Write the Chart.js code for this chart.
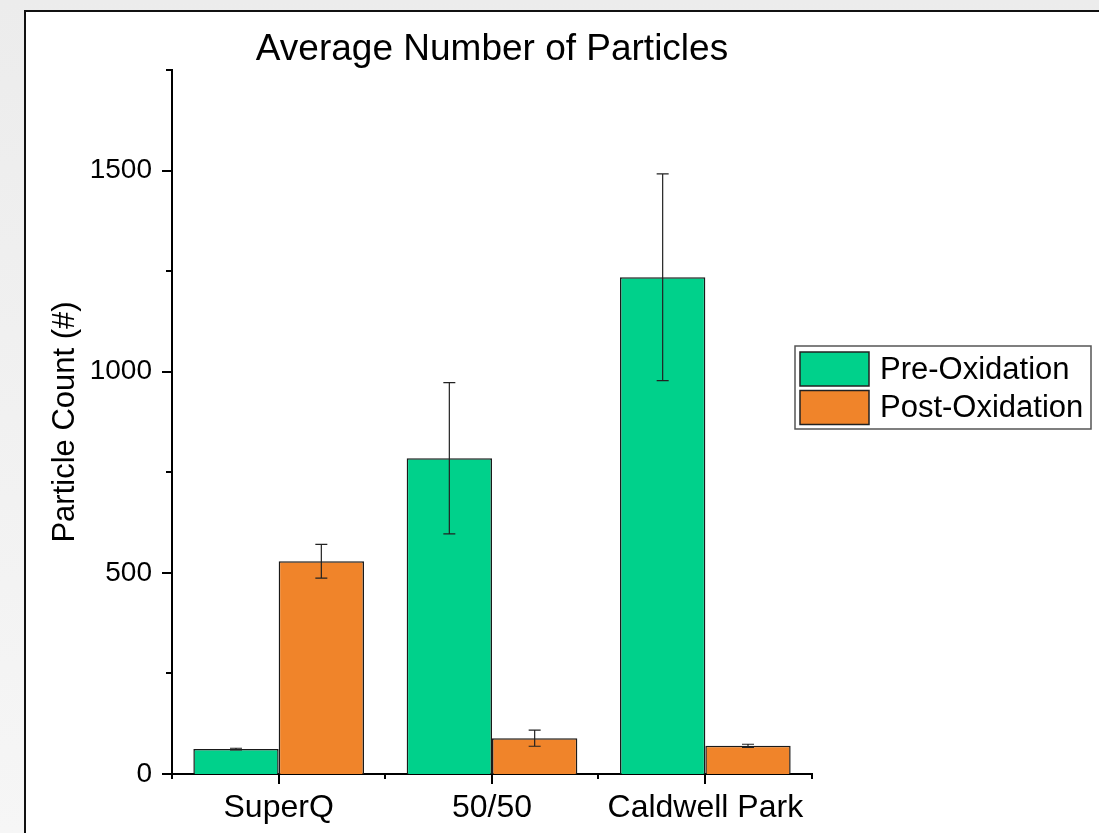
<!DOCTYPE html>
<html>
<head>
<meta charset="utf-8">
<script src="https://cdn.jsdelivr.net/npm/chart.js@4.4.1/dist/chart.umd.min.js"></script>
<style>
  html, body {
    margin: 0;
    padding: 0;
    width: 1099px;
    height: 833px;
    overflow: hidden;
    background: linear-gradient(to bottom, #ececec, #f6f6f6);
  }
  #frame {
    position: absolute;
    left: 24px;
    top: 10px;
    width: 1200px;
    height: 900px;
    border: 2px solid #111;
    background: #fff;
  }
  #chart-wrap {
    position: absolute;
    left: 0;
    top: 0;
    width: 1099px;
    height: 833px;
  }
</style>
</head>
<body>
<div id="frame"></div>
<div id="chart-wrap"><canvas id="chart-canvas" width="1099" height="833"></canvas></div>
<script>
// Data
const categories = ['SuperQ', '50/50', 'Caldwell Park'];
const preOxidation = [62, 785, 1235];
const preOxidationErr = [2, 188, 257];
const postOxidation = [529, 89, 70];
const postOxidationErr = [42, 20, 4];
const yTickValues = [0, 500, 1000, 1500];
const chartTitle = 'Average Number of Particles';

const FONT = "'Liberation Sans', Arial, sans-serif";
const GREEN = 'rgb(0, 209, 139)';
const ORANGE = 'rgb(240, 132, 42)';

// Title centred over the plot area (not the whole canvas)
const plotTitlePlugin = {
  id: 'plotTitle',
  afterDraw(chart) {
    const ctx = chart.ctx;
    const area = chart.chartArea;
    ctx.save();
    ctx.fillStyle = '#000';
    ctx.font = '37px ' + FONT;
    ctx.textAlign = 'center';
    ctx.textBaseline = 'middle';
    ctx.fillText(chartTitle, (area.left + area.right) / 2, 50);
    ctx.restore();
  },
};

// Error bars drawn on top of each bar
const errorBarPlugin = {
  id: 'errorBars',
  afterDatasetsDraw(chart) {
    const ctx = chart.ctx;
    const yScale = chart.scales.y;
    chart.data.datasets.forEach((ds, i) => {
      const meta = chart.getDatasetMeta(i);
      meta.data.forEach((bar, j) => {
        const v = ds.data[j];
        const e = ds.errors[j];
        const yTop = yScale.getPixelForValue(v + e);
        const yBot = yScale.getPixelForValue(v - e);
        ctx.save();
        ctx.strokeStyle = '#222';
        ctx.lineWidth = 1.2;
        ctx.beginPath();
        ctx.moveTo(bar.x, yTop);
        ctx.lineTo(bar.x, yBot);
        ctx.moveTo(bar.x - 6, yTop);
        ctx.lineTo(bar.x + 6, yTop);
        ctx.moveTo(bar.x - 6, yBot);
        ctx.lineTo(bar.x + 6, yBot);
        ctx.stroke();
        ctx.restore();
      });
    });
  },
};

// Outward tick marks (major + minor)
const axisTicksPlugin = {
  id: 'axisTicks',
  afterDraw(chart) {
    const ctx = chart.ctx;
    const { x, y } = chart.scales;
    const area = chart.chartArea;
    ctx.save();
    ctx.strokeStyle = '#000';
    ctx.lineWidth = 2;
    ctx.beginPath();
    for (let v = y.min; v <= y.max; v += 250) {
      const py = Math.round(y.getPixelForValue(v));
      const len = v % 500 === 0 ? 10 : 6;
      ctx.moveTo(area.left, py);
      ctx.lineTo(area.left - len, py);
    }
    const step = x.getPixelForValue(1) - x.getPixelForValue(0);
    categories.forEach((c, i) => {
      const px = Math.round(x.getPixelForValue(i));
      ctx.moveTo(px, area.bottom);
      ctx.lineTo(px, area.bottom + 10);
      const bx = Math.round(px - step / 2);
      ctx.moveTo(bx, area.bottom);
      ctx.lineTo(bx, area.bottom + 5);
    });
    const lastX = Math.round(x.getPixelForValue(categories.length - 1) + step / 2);
    ctx.moveTo(lastX, area.bottom);
    ctx.lineTo(lastX, area.bottom + 5);
    ctx.stroke();
    ctx.restore();
  },
};

// Boxed legend to the right of the plot
const boxLegendPlugin = {
  id: 'boxLegend',
  afterDraw(chart) {
    const ctx = chart.ctx;
    const left = 795, top = 346, w = 296, h = 83;
    ctx.save();
    ctx.fillStyle = '#fff';
    ctx.fillRect(left, top, w, h);
    ctx.strokeStyle = '#555';
    ctx.lineWidth = 1.5;
    ctx.strokeRect(left, top, w, h);
    chart.data.datasets.forEach((ds, i) => {
      const sy = top + 6 + i * 38.5;
      ctx.fillStyle = ds.backgroundColor;
      ctx.fillRect(left + 5, sy, 69, 34);
      ctx.strokeStyle = '#222';
      ctx.lineWidth = 1.5;
      ctx.strokeRect(left + 5, sy, 69, 34);
      ctx.fillStyle = '#000';
      ctx.font = '31px ' + FONT;
      ctx.textBaseline = 'middle';
      ctx.textAlign = 'left';
      ctx.fillText(ds.label, left + 85, sy + 18);
    });
    ctx.restore();
  },
};

const ctx = document.getElementById('chart-canvas').getContext('2d');
const chart = new Chart(ctx, {
  type: 'bar',
  data: {
    labels: categories,
    datasets: [
      {
        label: 'Pre-Oxidation',
        data: preOxidation,
        errors: preOxidationErr,
        backgroundColor: GREEN,
        borderColor: '#1a1a1a',
        borderWidth: 1.5,
        barPercentage: 1,
        categoryPercentage: 0.8,
      },
      {
        label: 'Post-Oxidation',
        data: postOxidation,
        errors: postOxidationErr,
        backgroundColor: ORANGE,
        borderColor: '#1a1a1a',
        borderWidth: 1.5,
        barPercentage: 1,
        categoryPercentage: 0.8,
      },
    ],
  },
  options: {
    responsive: false,
    animation: false,
    devicePixelRatio: 1,
    layout: {
      padding: { left: 0, top: 70, right: 287, bottom: 0 },
    },
    plugins: {
      legend: { display: false },
      tooltip: { enabled: false },
      title: { display: false },
    },
    scales: {
      x: {
        type: 'category',
        offset: true,
        grid: { display: false, drawTicks: false },
        border: { display: true, color: '#000', width: 2 },
        ticks: {
          color: '#000',
          padding: 15,
          maxRotation: 0,
          font: { family: FONT, size: 32 },
        },
        afterFit(scale) {
          scale.height = 59;
        },
      },
      y: {
        min: 0,
        max: 1750,
        grid: { display: false, drawTicks: false },
        border: { display: true, color: '#000', width: 2 },
        ticks: {
          stepSize: 250,
          color: '#000',
          padding: 20,
          font: { family: FONT, size: 28 },
          callback: (v) => (yTickValues.includes(v) ? String(v) : ''),
        },
        title: {
          display: true,
          text: 'Particle Count (#)',
          color: '#000',
          font: { family: FONT, size: 31, lineHeight: 1.2 },
          padding: { top: 47, bottom: 0 },
        },
        afterFit(scale) {
          scale.width = 172;
        },
      },
    },
  },
  plugins: [plotTitlePlugin, errorBarPlugin, axisTicksPlugin, boxLegendPlugin],
});
</script>
</body>
</html>
